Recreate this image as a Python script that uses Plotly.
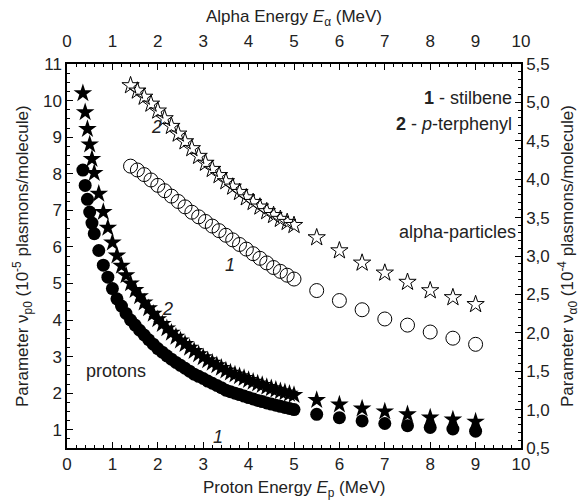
import plotly.graph_objects as go

# ---------------- data ----------------
proton_E = [0.35, 0.40, 0.45, 0.50, 0.55, 0.60, 0.70, 0.80, 0.90, 1.00,
            1.10, 1.20, 1.30, 1.40, 1.50, 1.60, 1.70, 1.80, 1.90, 2.00,
            2.10, 2.20, 2.30, 2.40, 2.50, 2.60, 2.70, 2.80, 2.90, 3.00,
            3.10, 3.20, 3.30, 3.40, 3.50, 3.60, 3.70, 3.80, 3.90, 4.00,
            4.10, 4.20, 4.30, 4.40, 4.50, 4.60, 4.70, 4.80, 4.90, 5.00,
            5.5, 6.0, 6.5, 7.0, 7.5, 8.0, 8.5, 9.0]
proton_stilbene = [8.10, 7.68, 7.30, 6.95, 6.65, 6.36, 5.90, 5.50, 5.17, 4.86,
                   4.58, 4.38, 4.18, 4.00, 3.86, 3.72, 3.59, 3.46, 3.34, 3.22,
                   3.12, 3.02, 2.93, 2.84, 2.76, 2.68, 2.60, 2.52, 2.46, 2.40,
                   2.33, 2.27, 2.21, 2.15, 2.08, 2.04, 2.00, 1.96, 1.92, 1.88,
                   1.84, 1.80, 1.77, 1.73, 1.70, 1.67, 1.64, 1.61, 1.58, 1.55,
                   1.42, 1.33, 1.24, 1.17, 1.11, 1.06, 1.02, 0.96]
proton_terphenyl = [10.20, 9.68, 9.22, 8.80, 8.40, 8.02, 7.45, 6.95, 6.52, 6.12,
                    5.76, 5.48, 5.22, 5.00, 4.82, 4.65, 4.48, 4.32, 4.17, 4.02,
                    3.89, 3.77, 3.65, 3.54, 3.44, 3.34, 3.24, 3.15, 3.06, 2.98,
                    2.90, 2.83, 2.76, 2.69, 2.62, 2.56, 2.51, 2.46, 2.41, 2.36,
                    2.31, 2.26, 2.22, 2.17, 2.13, 2.09, 2.05, 2.02, 1.98, 1.95,
                    1.81, 1.69, 1.58, 1.50, 1.42, 1.33, 1.28, 1.22]

alpha_E = [1.40, 1.55, 1.70, 1.85, 2.00, 2.15, 2.30, 2.45, 2.60, 2.75,
           2.90, 3.05, 3.20, 3.35, 3.50, 3.65, 3.80, 3.95, 4.10, 4.25,
           4.40, 4.55, 4.70, 4.85, 5.00,
           5.5, 6.0, 6.5, 7.0, 7.5, 8.0, 8.5, 9.0]
alpha_stilbene = [4.17, 4.12, 4.06, 3.99, 3.92, 3.85, 3.78, 3.71, 3.64, 3.57,
                  3.51, 3.45, 3.39, 3.33, 3.27, 3.21, 3.15, 3.09, 3.03, 2.97,
                  2.91, 2.85, 2.80, 2.75, 2.70,
                  2.55, 2.42, 2.30, 2.18, 2.10, 2.01, 1.93, 1.85]
alpha_terphenyl = [5.22, 5.15, 5.07, 4.98, 4.89, 4.79, 4.69, 4.59, 4.49, 4.40,
                   4.30, 4.21, 4.13, 4.05, 3.97, 3.90, 3.83, 3.76, 3.70, 3.64,
                   3.58, 3.53, 3.48, 3.44, 3.40,
                   3.24, 3.07, 2.91, 2.78, 2.66, 2.55, 2.46, 2.37]

x_ticks = [0, 1, 2, 3, 4, 5, 6, 7, 8, 9, 10]
left_ticks = [1, 2, 3, 4, 5, 6, 7, 8, 9, 10, 11]
right_tickvals = [0.5, 1.0, 1.5, 2.0, 2.5, 3.0, 3.5, 4.0, 4.5, 5.0, 5.5]
right_ticktext = ["0,5", "1,0", "1,5", "2,0", "2,5", "3,0", "3,5", "4,0", "4,5", "5,0", "5,5"]

FONT = "Liberation Sans, Arial, sans-serif"
TXT = "#222"

fig = go.Figure()
fig.add_trace(go.Scatter(x=proton_E, y=proton_stilbene, mode="markers",
                         marker=dict(symbol="circle", size=13, color="black"),
                         xaxis="x", yaxis="y", showlegend=False))
fig.add_trace(go.Scatter(x=proton_E, y=proton_terphenyl, mode="markers",
                         marker=dict(symbol="star", size=14, color="black"),
                         xaxis="x", yaxis="y", showlegend=False))
fig.add_trace(go.Scatter(x=alpha_E, y=alpha_stilbene, mode="markers",
                         marker=dict(symbol="circle-open", size=14, color="black",
                                     line=dict(width=1)),
                         xaxis="x2", yaxis="y2", showlegend=False))
fig.add_trace(go.Scatter(x=alpha_E, y=alpha_terphenyl, mode="markers",
                         marker=dict(symbol="star-open", size=13, color="black",
                                     line=dict(width=1)),
                         xaxis="x2", yaxis="y2", showlegend=False))

axis_common = dict(showline=True, linecolor="black", linewidth=1.5,
                   ticks="inside", ticklen=6, tickwidth=1.2, tickcolor="black",
                   showgrid=False, zeroline=False, automargin=False,
                   tickfont=dict(family=FONT, size=17, color=TXT))

fig.update_layout(
    width=583, height=500,
    margin=dict(l=67, r=62, t=64, b=52),
    paper_bgcolor="white", plot_bgcolor="white",
    font=dict(family=FONT, color=TXT),
    xaxis=dict(range=[0, 10], tickvals=x_ticks,
               minor=dict(dtick=0.2, ticks="inside", ticklen=3, tickcolor="black"),
               **axis_common),
    xaxis2=dict(range=[0, 10], tickvals=x_ticks, overlaying="x", side="top",
                anchor="y", ticklabelstandoff=8,
                minor=dict(dtick=0.2, ticks="inside", ticklen=3, tickcolor="black"),
                **axis_common),
    yaxis=dict(range=[0.5, 11], tickvals=left_ticks,
               minor=dict(dtick=0.25, tick0=0.5, ticks="inside", ticklen=3, tickcolor="black"),
               **axis_common),
    yaxis2=dict(range=[0.5, 5.5], tickvals=right_tickvals, ticktext=right_ticktext,
                overlaying="y", side="right", anchor="x",
                minor=dict(dtick=0.1, tick0=0.5, ticks="inside", ticklen=3, tickcolor="black"),
                **axis_common),
)

# axis titles (placed as paper annotations)
PW, PH = 454.0, 384.0
fig.add_annotation(xref="paper", yref="paper", x=0.5, y=1 + (64 - 18) / PH,
                   text="Alpha Energy <i>E</i><sub>α</sub> (MeV)", showarrow=False,
                   xanchor="center", yanchor="middle",
                   font=dict(family=FONT, size=17, color=TXT))
fig.add_annotation(xref="paper", yref="paper", x=0.5, y=-(489 - 448) / PH,
                   text="Proton Energy <i>E</i><sub>p</sub> (MeV)", showarrow=False,
                   xanchor="center", yanchor="middle",
                   font=dict(family=FONT, size=17, color=TXT))
fig.add_annotation(xref="paper", yref="paper", x=(22 - 67) / PW, y=0.5,
                   text="Parameter ν<sub>p0</sub> (10<sup>-5</sup> plasmons/molecule)",
                   showarrow=False, textangle=-90, xanchor="center", yanchor="middle",
                   font=dict(family=FONT, size=17, color=TXT))
fig.add_annotation(xref="paper", yref="paper", x=(567 - 67) / PW, y=0.5,
                   text="Parameter ν<sub>α0</sub> (10<sup>-4</sup> plasmons/molecule)",
                   showarrow=False, textangle=-90, xanchor="center", yanchor="middle",
                   font=dict(family=FONT, size=17, color=TXT))


def ann(x, y, text, xanchor="center", size=18, italic=False):
    t = f"<i>{text}</i>" if italic else text
    fig.add_annotation(x=x, y=y, xref="x", yref="y", text=t, showarrow=False,
                       xanchor=xanchor, yanchor="middle",
                       font=dict(family=FONT, size=size, color=TXT))


ann(9.85, 10.08, "<b>1</b> - stilbene", xanchor="right")
ann(9.85, 9.36, "<b>2</b> - <i>p</i>-terphenyl", xanchor="right")
ann(8.6, 6.42, "alpha-particles")
ann(1.08, 2.61, "protons")
ann(1.98, 9.28, "2", italic=True)
ann(3.59, 5.5, "1", italic=True)
ann(2.22, 4.3, "2", italic=True)
ann(3.33, 0.8, "1", italic=True)

fig.write_html("out.html", config={"displayModeBar": False},
               post_script="document.body.style.margin='0';")
